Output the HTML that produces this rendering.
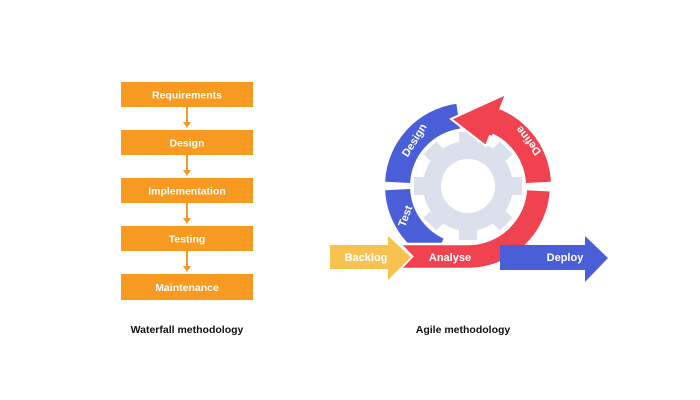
<!DOCTYPE html>
<html><head><meta charset="utf-8"><style>
html,body{margin:0;padding:0;background:#fff;}
svg{display:block;font-family:"Liberation Sans",sans-serif;}
</style></head><body>
<svg width="700" height="400" viewBox="0 0 700 400">
<rect width="700" height="400" fill="#fff"/>
<!-- Waterfall -->
<g fill="#f89a22">
<rect x="121" y="82" width="132" height="25"/>
<rect x="121" y="130" width="132" height="25"/>
<rect x="121" y="178" width="132" height="25"/>
<rect x="121" y="226" width="132" height="25"/>
<rect x="121" y="274" width="132" height="26"/>
</g>
<g stroke="#f89a22" stroke-width="2" fill="#f89a22">
<line x1="187" y1="107" x2="187" y2="124"/><polygon points="183,122 191,122 187,128" stroke="none"/>
<line x1="187" y1="155" x2="187" y2="172"/><polygon points="183,170 191,170 187,176" stroke="none"/>
<line x1="187" y1="203" x2="187" y2="220"/><polygon points="183,218 191,218 187,224" stroke="none"/>
<line x1="187" y1="251" x2="187" y2="268"/><polygon points="183,266 191,266 187,272" stroke="none"/>
</g>
<g fill="#fff" font-size="10.5" text-anchor="middle" font-weight="bold">
<text x="187" y="98.5">Requirements</text>
<text x="187" y="146.5">Design</text>
<text x="187" y="194.5">Implementation</text>
<text x="187" y="242.5">Testing</text>
<text x="187" y="291">Maintenance</text>
</g>
<text x="187" y="333" font-size="10.5" font-weight="bold" text-anchor="middle" fill="#111">Waterfall methodology</text>
<text x="463" y="333" font-size="10.5" font-weight="bold" text-anchor="middle" fill="#111">Agile methodology</text>
<!-- Gear -->
<g transform="translate(468,186)" fill="#dbe0ec">
<circle r="45"/>
<g id="t"><rect x="-9" y="-54" width="18" height="14"/></g>
<use href="#t" transform="rotate(45)"/><use href="#t" transform="rotate(90)"/><use href="#t" transform="rotate(135)"/>
<use href="#t" transform="rotate(180)"/><use href="#t" transform="rotate(225)"/><use href="#t" transform="rotate(270)"/><use href="#t" transform="rotate(315)"/>
<circle r="27" fill="#fff"/>
</g>
<!-- Design -->
<path d="M385.1,181.7 A83,83 0 0 1 456.4,103.8 L459.9,128.6 A58,58 0 0 0 410.1,183.0 Z" fill="#4a5ed8"/>
<!-- Define -->
<path d="M550.9,181.7 A83,83 0 0 0 499.1,109.0 L489.7,132.2 A58,58 0 0 1 525.9,183.0 Z" fill="#f0434f"/>
<polygon points="486,146 506,94 451,119" fill="#f0434f" stroke="#fff" stroke-width="2" stroke-linejoin="miter"/>
<path d="M501,110 L490,135" stroke="#f0434f" stroke-width="4"/>
<!-- Test -->
<path d="M385.1,190.3 A83,83 0 0 0 432.9,261.2 L443.5,238.6 A58,58 0 0 1 410.1,189.0 Z" fill="#4a5ed8"/>
<!-- Analyse -->
<path d="M550.9,190.3 A83,83 0 0 1 468,269 L400,269 L412,256.5 L400,244 L468,244 A58,58 0 0 0 525.9,189.0 Z" fill="#f0434f" stroke="#fff" stroke-width="2.5"/>
<!-- Backlog -->
<polygon points="330,245 388,245 388,236 411,257 388,280 388,269 330,269" fill="#f8c250"/>
<!-- Deploy -->
<polygon points="500,245 585,245 585,236 608,258 585,282 585,270 500,270" fill="#4a5ed8"/>
<g fill="#fff" font-size="11" font-weight="bold" text-anchor="middle">
<text x="366" y="261">Backlog</text>
<text x="450" y="261">Analyse</text>
<text x="565" y="261">Deploy</text>
<text transform="translate(414,140) rotate(-58)" y="4">Design</text>
<text transform="translate(528,141) rotate(232)" y="4">Define</text>
<text transform="translate(405,216) rotate(-70)" y="4">Test</text>
</g>
</svg>
</body></html>
